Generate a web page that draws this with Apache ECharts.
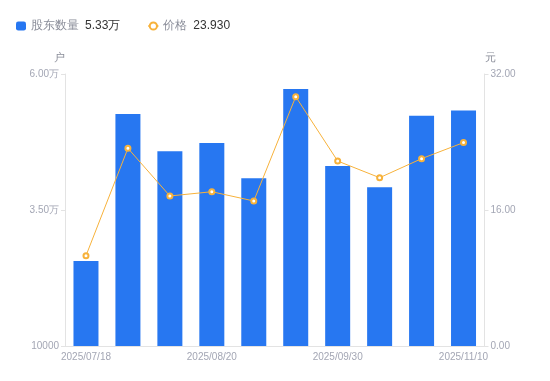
<!DOCTYPE html>
<html><head><meta charset="utf-8">
<script src="https://cdn.jsdelivr.net/npm/echarts@6/dist/echarts.min.js"></script>
<style>html,body{margin:0;padding:0;background:#fff}#c{width:550px;height:381px}</style>
</head><body><div id="c"></div>
<script>
var categories = ['2025/07/18','2025/07/31','2025/08/08','2025/08/20','2025/08/29','2025/09/19','2025/09/30','2025/10/20','2025/10/31','2025/11/10'];
var holders = [25630, 52650, 45790, 47310, 40830, 57240, 43090, 39170, 52330, 53300];
var prices = [10.62, 23.26, 17.65, 18.15, 17.06, 29.33, 21.76, 19.80, 22.04, 23.93];
var leftTicks = [10000, 35000, 60000];
var rightTicks = [0, 16, 32];

var chart = echarts.init(document.getElementById('c'), null, {renderer:'canvas'});
var grayLabel = '#a3a6b4';
function fmtLeft(v){ return v >= 20000 ? (v/10000).toFixed(2) + '万' : String(v); }
chart.setOption({
  animation:false,
  legend:{
    left:11, top:15, itemGap:27, itemWidth:10, itemHeight:9,
    data:[{name:'股东数量', icon:'roundRect'}, {name:'价格'}],
    formatter:function(n){
      return n==='股东数量' ? '{n|股东数量}{v|' + (holders[holders.length-1]/10000).toFixed(2) + '万}'
                          : '{n|价格}{v|' + prices[prices.length-1].toFixed(3) + '}';
    },
    textStyle:{fontSize:12, rich:{n:{color:'#8a8d99', fontSize:12}, v:{color:'#333', fontSize:12, padding:[0,0,0,6]}}}
  },
  grid:{left:65, right:65.5, top:74, bottom:35},
  xAxis:{
    type:'category', data:categories,
    axisLine:{lineStyle:{color:'#e3e3e3'}},
    axisTick:{show:false},
    axisLabel:{color:grayLabel, fontSize:10, interval:2, margin:6}
  },
  yAxis:[{
    type:'value', name:'户', min:leftTicks[0], max:leftTicks[2], interval:leftTicks[1]-leftTicks[0],
    nameGap:11, nameTextStyle:{color:'#8a8d99', fontSize:11, align:'right'},
    axisLine:{show:true, lineStyle:{color:'#e3e3e3'}},
    axisTick:{show:true, length:4, lineStyle:{color:'#e3e3e3'}},
    splitLine:{show:false},
    axisLabel:{color:grayLabel, fontSize:10, margin:6, formatter:fmtLeft}
  },{
    type:'value', name:'元', min:rightTicks[0], max:rightTicks[2], interval:rightTicks[1]-rightTicks[0],
    nameGap:11, nameTextStyle:{color:'#8a8d99', fontSize:11, align:'left'},
    axisLine:{show:true, lineStyle:{color:'#e3e3e3'}},
    axisTick:{show:true, length:4, lineStyle:{color:'#e3e3e3'}},
    splitLine:{show:false},
    axisLabel:{color:grayLabel, fontSize:10, margin:6, formatter:function(v){return v.toFixed(2);}}
  }],
  series:[{
    name:'股东数量', type:'bar', data:holders, yAxisIndex:0, barWidth:25,
    itemStyle:{color:'#2777f1'}
  },{
    name:'价格', type:'line', data:prices, yAxisIndex:1,
    symbol:'emptyCircle', symbolSize:5,
    lineStyle:{color:'#f7b23b', width:1},
    itemStyle:{color:'#f7b23b', borderWidth:2}
  }]
});
</script></body></html>
